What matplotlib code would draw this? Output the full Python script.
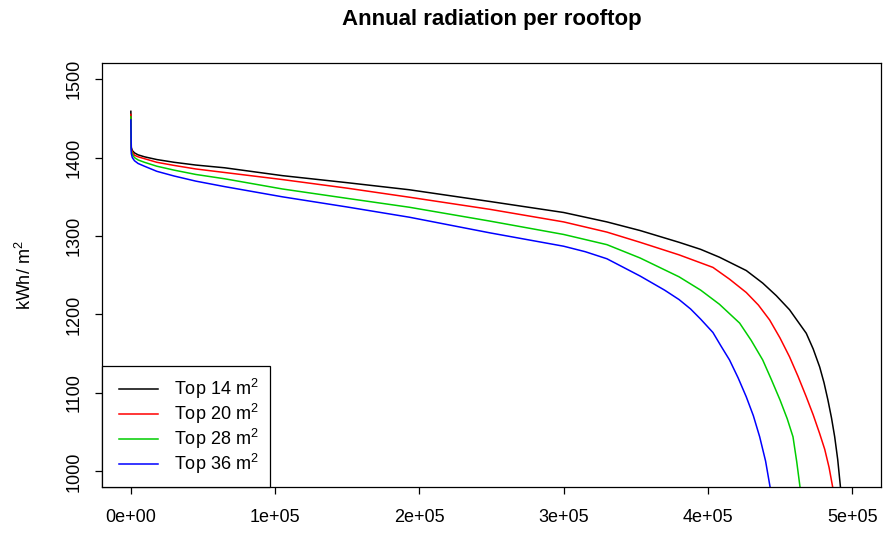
import matplotlib
matplotlib.use("Agg")
import matplotlib.pyplot as plt
from matplotlib.legend_handler import HandlerLine2D

plt.rcParams['font.family'] = ['Liberation Sans', 'DejaVu Sans']
plt.rcParams['mathtext.fontset'] = 'custom'
plt.rcParams['mathtext.rm'] = 'Liberation Sans'
plt.rcParams['mathtext.it'] = 'Liberation Sans'

# rooftops sorted by annual radiation (rank -> kWh/m2)
x_14 = [0, 300, 1000, 2500, 5000, 9400, 18000, 30000, 45000, 65000, 85000, 105000,
        150000, 193000, 249000, 300000, 330000, 353000, 380000, 395000, 408000, 426600,
        438000, 447400, 456600, 462000, 468200, 473000, 477500, 480500, 483200, 485700,
        487900, 490000, 492000, 493000]
v_14 = [1459, 1413, 1409, 1406, 1403.5, 1401, 1397.5, 1394, 1390.5, 1387, 1382, 1377,
        1368, 1359, 1344, 1330, 1318, 1307, 1292, 1283, 1273, 1256,
        1240, 1224, 1206, 1192, 1176, 1156, 1133, 1113, 1091, 1068,
        1044, 1015, 978, 940]

x_20 = [0, 300, 1000, 2500, 5000, 9400, 18000, 30000, 45000, 65000, 85000, 105000,
        150000, 193000, 249000, 300000, 330000, 353000, 380000, 403500, 415000, 426600,
        435000, 442800, 450000, 456600, 462500, 468200, 473000, 477500, 481000, 484000,
        486700, 487500]
v_20 = [1455, 1411, 1407, 1403, 1401, 1398.6, 1394, 1390, 1385.5, 1381, 1376.5, 1372,
        1361, 1349.5, 1334, 1318, 1305, 1292, 1276, 1260, 1245, 1228,
        1212, 1193, 1170, 1146, 1121, 1095, 1072, 1048, 1028, 1005,
        978, 940]

x_28 = [0, 300, 1000, 2500, 5000, 9400, 18000, 30000, 45000, 65000, 85000, 105000,
        150000, 193000, 249000, 300000, 330000, 353000, 380000, 395000, 408000, 422000,
        430000, 438000, 444000, 450000, 455000, 459000, 461600, 464000, 465000]
v_28 = [1452, 1409, 1404, 1400, 1397, 1394, 1389, 1384, 1378.5, 1373, 1366.5, 1360,
        1348, 1336.7, 1319, 1302, 1289, 1272, 1248, 1231, 1213, 1189,
        1167, 1142, 1117, 1091, 1067, 1044, 1012, 978, 940]

x_36 = [0, 300, 1000, 2500, 5000, 9400, 18000, 30000, 45000, 65000, 85000, 105000,
        150000, 193000, 249000, 300000, 315000, 330000, 353000, 370000, 380000, 388000,
        395000, 403500, 409000, 415000, 421000, 426600, 431500, 435900, 440000, 443300,
        444300]
v_36 = [1448, 1405, 1400, 1396, 1392.5, 1389, 1382.5, 1376.5, 1370, 1363, 1356.5, 1350,
        1337, 1324, 1304, 1287, 1280, 1271, 1249, 1231, 1219, 1207,
        1194, 1177, 1160, 1142, 1119, 1095, 1071, 1044, 1013, 978,
        940]

labels = ['Top 14 m$^2$', 'Top 20 m$^2$', 'Top 28 m$^2$', 'Top 36 m$^2$']
colors = ['black', '#FF0000', '#00CD00', '#0000FF']

fig = plt.figure(figsize=(8.84, 5.37), dpi=100)
ax = fig.add_axes([0.1154, 0.0931, 0.8812, 0.7887])

lines = []
for xs, vs, lab, col in zip([x_14, x_20, x_28, x_36], [v_14, v_20, v_28, v_36], labels, colors):
    ln, = ax.plot(xs, vs, color=col, lw=1.1, label=lab)
    lines.append(ln)

ax.set_xlim(-20000, 520000)
ax.set_ylim(980, 1520)
ax.set_xticks([0, 100000, 200000, 300000, 400000, 500000])
ax.set_xticklabels(['0e+00', '1e+05', '2e+05', '3e+05', '4e+05', '5e+05'])
ax.set_yticks([1000, 1100, 1200, 1300, 1400, 1500])
ax.set_yticklabels(['1000', '1100', '1200', '1300', '1400', '1500'], rotation=90, va='center')
ax.tick_params(direction='out', length=5, width=0.9, labelsize=13)
ax.tick_params(axis='x', pad=11)
ax.tick_params(axis='y', pad=9)
for s in ax.spines.values():
    s.set_linewidth(0.9)

ax.set_ylabel('kWh/ m$^2$', fontsize=13, labelpad=22)
# R centres the main title over the plot region
fig.text(0.556, 0.963, 'Annual radiation per rooftop', fontsize=16, fontweight='bold',
         ha='center', va='center')

# xpad pushes the legend lines right without padding the box vertically
leg = ax.legend(loc='lower left', borderaxespad=0, fancybox=False, edgecolor='black',
                fontsize=13, handlelength=2.5, handletextpad=0.9, labelspacing=0.05,
                borderpad=0.6, framealpha=1,
                handler_map={ln: HandlerLine2D(xpad=0.33) for ln in lines})
leg.get_frame().set_linewidth(0.9)

fig.savefig('out.png', dpi=100)
